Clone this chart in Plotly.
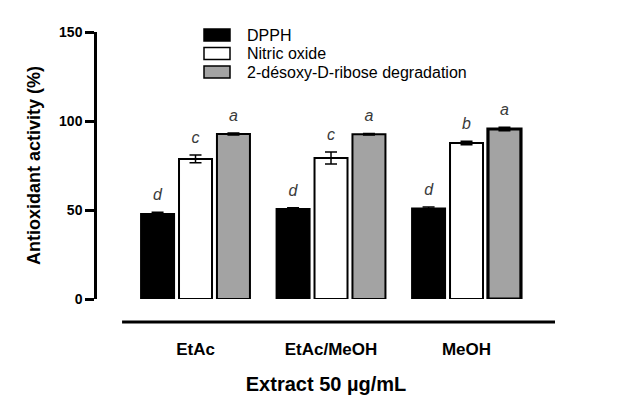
import plotly.graph_objects as go

extracts = ["EtAc", "EtAc/MeOH", "MeOH"]
dpph = [47.8, 50.6, 50.8]
dpph_err = [1.0, 0.6, 0.9]
nitric = [78.7, 79.2, 87.6]
nitric_err = [2.2, 3.4, 1.0]
ribose = [92.7, 92.6, 95.5]
ribose_err = [0.5, 0.4, 1.0]
letters_dpph = ["d", "d", "d"]
letters_nitric = ["c", "c", "b"]
letters_ribose = ["a", "a", "a"]

font = "Liberation Sans, Arial, sans-serif"
pos = list(range(len(extracts)))
step = 0.28
bw = 0.2435

series = [
    ("DPPH", dpph, dpph_err, letters_dpph, "black", -step, 2),
    ("Nitric oxide", nitric, nitric_err, letters_nitric, "white", 0, 2),
    ("2-désoxy-D-ribose degradation", ribose, ribose_err, letters_ribose, "#a3a3a3", step, [2, 2, 3.2]),
]

fig = go.Figure()
for name, vals, errs, lets, col, off, lw in series:
    xs = [p + off for p in pos]
    fig.add_trace(go.Bar(
        x=xs, y=vals, width=bw, name=name, showlegend=False,
        marker=dict(color=col, line=dict(color="black", width=lw)),
        error_y=dict(type="data", array=errs, color="black", thickness=1.5, width=6),
    ))
    fig.add_trace(go.Scatter(
        x=xs, y=[v + e + 9 for v, e in zip(vals, errs)], mode="text", text=lets,
        textposition="middle center", showlegend=False, hoverinfo="skip",
        textfont=dict(family=font, size=16, color="#3a3a3a", style="italic"),
    ))

# hand-made legend: wide swatches with tight rows like the original
ph = 267.0  # plot height in px
pw = 458.0  # plot width in px
for k, (name, _, _, _, col, _, _) in enumerate(series):
    yc = 1 - (3 + 18.5 * k) / ph
    fig.add_shape(type="rect", xref="paper", yref="paper",
                  x0=107 / pw, x1=133 / pw, y0=yc - 6 / ph, y1=yc + 6 / ph,
                  fillcolor=col, line=dict(color="black", width=1.5))
    fig.add_annotation(x=149 / pw, y=yc, xref="paper", yref="paper", text=name,
                       showarrow=False, xanchor="left", yanchor="middle",
                       borderpad=0,
                       font=dict(size=16, color="black", family=font))

# separate baseline drawn under the bars, as in the original
fig.add_shape(type="line", xref="x", yref="paper", x0=-0.542, x1=2.653,
              y0=-0.086, y1=-0.086, line=dict(color="black", width=3))

# page body has an 8px margin, so pull the plot area up/left by 8px
fig.update_layout(
    width=641, height=408,
    margin=dict(l=89, r=94, t=24, b=117),
    paper_bgcolor="white", plot_bgcolor="white",
    font=dict(family=font, color="black"),
    showlegend=False,
    xaxis=dict(range=[-0.727, 2.653], tickvals=pos, ticktext=extracts,
               showline=False, showgrid=False, zeroline=False, ticks="",
               ticklabelstandoff=38, automargin=False,
               tickfont=dict(size=17, family=font, weight="bold"),
               title=dict(text="Extract 50 µg/mL", standoff=18,
                          font=dict(size=20, weight="bold"))),
    yaxis=dict(range=[0, 150], tickvals=[0, 50, 100, 150],
               showline=True, linecolor="black", linewidth=2.5,
               ticks="outside", ticklen=9, tickwidth=2.5, tickcolor="black",
               showgrid=False, zeroline=False, automargin=False,
               tickfont=dict(size=14, family=font, weight="bold"),
               title=dict(text="Antioxidant activity (%)", standoff=14,
                          font=dict(size=18, weight="bold"))),
)

fig.write_html("out.html")
